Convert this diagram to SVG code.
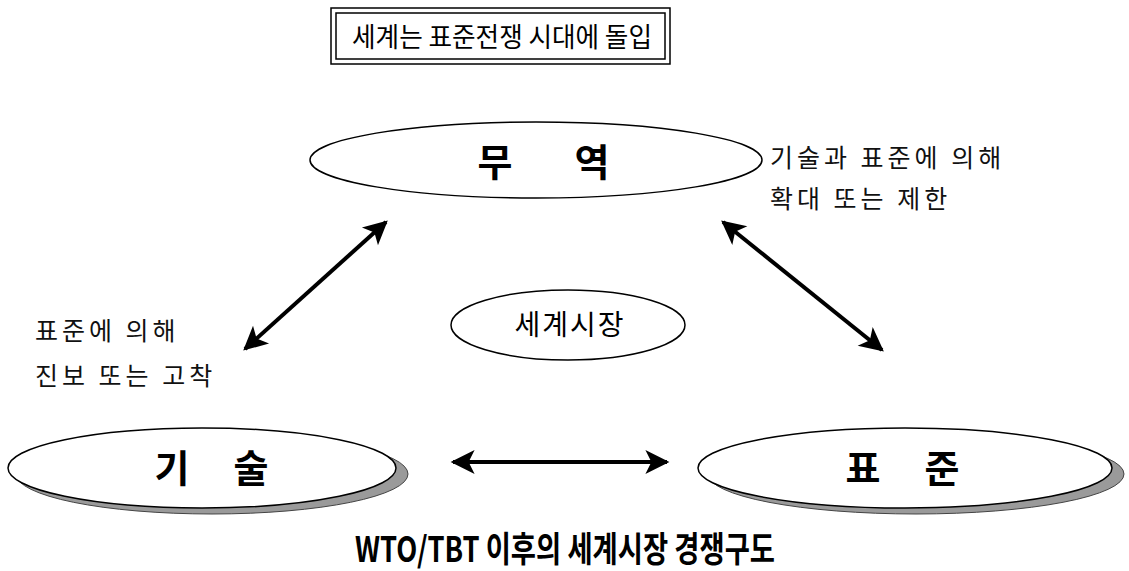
<svg xmlns="http://www.w3.org/2000/svg" width="1129" height="571" viewBox="0 0 1129 571">
<defs>
<style>
.title{font-family:"Noto Sans CJK KR","Noto Sans",sans-serif;font-size:27px;fill:#000}
.big{font-family:"Noto Sans CJK KR","Noto Sans",sans-serif;font-size:38px;font-weight:bold;fill:#000}
.note{font-family:"Noto Sans CJK KR","Noto Sans",sans-serif;font-size:25px;letter-spacing:4px;fill:#111}
.mid{font-family:"Noto Sans CJK KR","Noto Sans",sans-serif;font-size:28px;letter-spacing:2px;fill:#000}
.foot{font-family:"Noto Sans CJK KR","Noto Sans",sans-serif;font-size:35px;font-weight:bold;fill:#000}
.node{fill:#fff;stroke:#000;stroke-width:1.5}
.shadow{fill:#9a9a9a;stroke:#444;stroke-width:1}
.conn{stroke:#000;stroke-width:4;fill:none}
</style>
<marker id="ah" viewBox="0 0 10 10" refX="9" refY="5" markerWidth="6.5" markerHeight="6" markerUnits="strokeWidth" orient="auto-start-reverse">
<path d="M0,0 L10,5 L0,10 L2.5,5 z" fill="#000"/>
</marker>
</defs>
<rect width="1129" height="571" fill="#fff"/>
<g id="title-box">
<rect x="331" y="8" width="339" height="56" fill="none" stroke="#000" stroke-width="1.5"/>
<rect x="336" y="13" width="329" height="46" fill="none" stroke="#000" stroke-width="1.5"/>
<text class="title" x="502" y="47" text-anchor="middle" textLength="300" lengthAdjust="spacingAndGlyphs">세계는 표준전쟁 시대에 돌입</text>
</g>
<g id="node-trade">
<ellipse class="node" cx="536" cy="160" rx="226" ry="38"/>
<text class="big" x="495" y="176" text-anchor="middle">무</text>
<text class="big" x="592" y="176" text-anchor="middle">역</text>
</g>
<g id="note-trade">
<text class="note" x="770" y="167">기술과 표준에 의해</text>
<text class="note" x="770" y="208">확대 또는 제한</text>
</g>
<g id="node-market">
<ellipse class="node" cx="568" cy="325" rx="117" ry="35"/>
<text class="mid" x="570" y="335" text-anchor="middle">세계시장</text>
</g>
<g id="note-tech">
<text class="note" x="35" y="340">표준에 의해</text>
<text class="note" x="35" y="385">진보 또는 고착</text>
</g>
<g id="node-tech">
<ellipse class="shadow" cx="212" cy="474" rx="196" ry="40"/>
<ellipse class="node" cx="202" cy="468" rx="194" ry="40"/>
<text class="big" x="172" y="482" text-anchor="middle">기</text>
<text class="big" x="251" y="482" text-anchor="middle">술</text>
</g>
<g id="node-std">
<ellipse class="shadow" cx="916" cy="474" rx="208" ry="40"/>
<ellipse class="node" cx="905" cy="468" rx="207" ry="40"/>
<text class="big" x="863" y="482" text-anchor="middle">표</text>
<text class="big" x="942" y="482" text-anchor="middle">준</text>
</g>
<g id="connectors">
<line class="conn" x1="245" y1="349" x2="386" y2="222" marker-start="url(#ah)" marker-end="url(#ah)"/>
<line class="conn" x1="723" y1="222" x2="882" y2="350" marker-start="url(#ah)" marker-end="url(#ah)"/>
<line class="conn" x1="453" y1="462" x2="667" y2="462" marker-start="url(#ah)" marker-end="url(#ah)"/>
</g>
<g id="caption">
<text class="foot" x="565" y="562" text-anchor="middle" textLength="420" lengthAdjust="spacingAndGlyphs">WTO/TBT 이후의 세계시장 경쟁구도</text>
</g>
</svg>
